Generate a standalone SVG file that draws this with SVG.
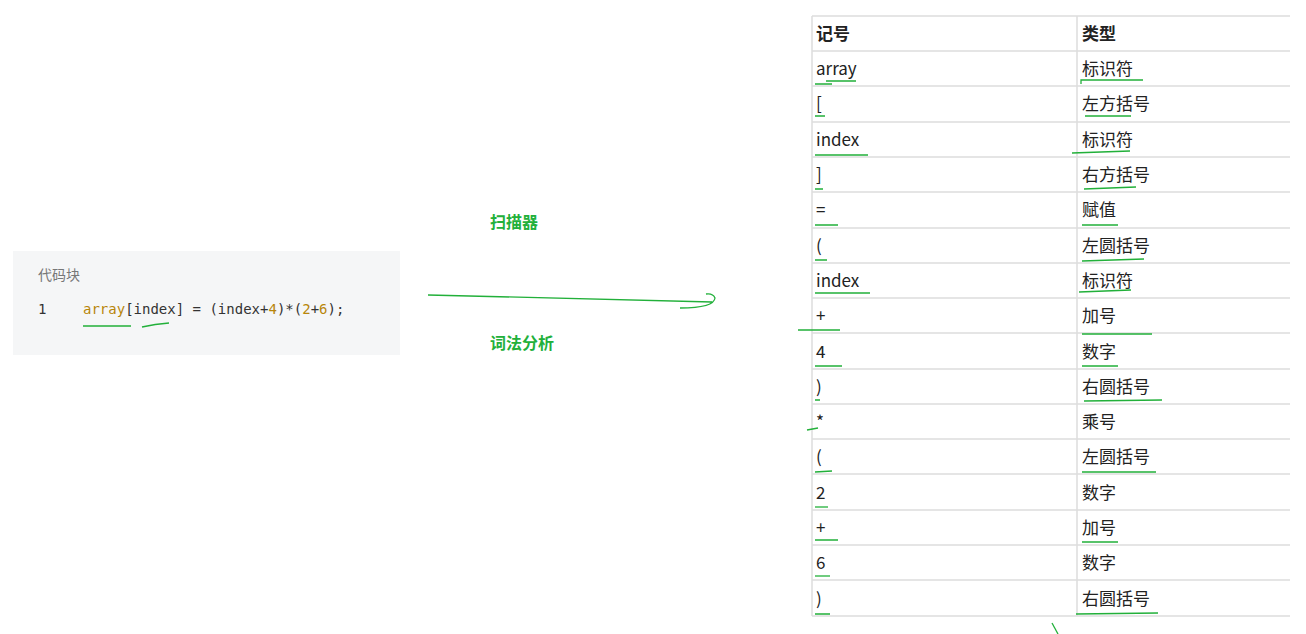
<svg xmlns="http://www.w3.org/2000/svg" width="1306" height="634" viewBox="0 0 1306 634">
<style>
.t{font-family:"Microsoft YaHei","Noto Sans CJK SC",sans-serif;font-size:17px;fill:#222}
.h{font-weight:bold}
.g{stroke:#22b03a;stroke-width:1.3;fill:none}
.c{font-family:"DejaVu Sans Mono","Liberation Mono",monospace;font-size:14px;fill:#333}
.o{fill:#b8860b}
.gl{font-family:"Noto Sans CJK SC",sans-serif;font-size:16px;fill:#22b03a;font-weight:bold}
.ln{stroke:#dcdcdc;stroke-width:1.5}
</style>
<rect width="1306" height="634" fill="#fff"/>
<g id="code">
<rect x="13" y="251" width="387" height="104" fill="#f5f6f7"/>
<text x="38" y="280" font-family="Noto Sans CJK SC,sans-serif" font-size="14" fill="#777">代码块</text>
<text x="38" y="314" class="c" fill="#555">1</text>
<text x="83" y="314" class="c"><tspan class="o">array</tspan>[index] = (index+<tspan class="o">4</tspan>)*(<tspan class="o">2</tspan>+<tspan class="o">6</tspan>);</text>
<path class="g" d="M83 326 L131 326 M142 327 Q155 324 169 323"/>
</g>
<g id="connectors">
<path class="g" d="M428 295 Q560 298 712 302 M680 308 Q714 308 715 298 Q713 293 706 294"/>
<text x="490" y="228" class="gl">扫描器</text>
<text x="490" y="349" class="gl">词法分析</text>
<path class="g" d="M1052 623 L1058 634"/>
</g>
<g id="table">
<g class="ln">
<line x1="812" y1="16" x2="1290" y2="16"/><line x1="812" y1="51" x2="1290" y2="51"/><line x1="812" y1="86" x2="1290" y2="86"/><line x1="812" y1="122" x2="1290" y2="122"/><line x1="812" y1="157" x2="1290" y2="157"/><line x1="812" y1="192" x2="1290" y2="192"/><line x1="812" y1="228" x2="1290" y2="228"/><line x1="812" y1="263" x2="1290" y2="263"/><line x1="812" y1="298" x2="1290" y2="298"/><line x1="812" y1="333" x2="1290" y2="333"/><line x1="812" y1="369" x2="1290" y2="369"/><line x1="812" y1="404" x2="1290" y2="404"/><line x1="812" y1="439" x2="1290" y2="439"/><line x1="812" y1="474" x2="1290" y2="474"/><line x1="812" y1="510" x2="1290" y2="510"/><line x1="812" y1="545" x2="1290" y2="545"/><line x1="812" y1="580" x2="1290" y2="580"/><line x1="812" y1="616" x2="1290" y2="616"/>
<line x1="812" y1="16" x2="812" y2="616"/><line x1="1077" y1="16" x2="1077" y2="616"/>
</g>
<text class="t h" x="816" y="40">记号</text><text class="t h" x="1082" y="40">类型</text>
<text class="t" x="816" y="75">array</text><text class="t" x="1082" y="75">标识符</text>
<text class="t" x="816" y="110">[</text><text class="t" x="1082" y="110">左方括号</text>
<text class="t" x="816" y="146">index</text><text class="t" x="1082" y="146">标识符</text>
<text class="t" x="816" y="181">]</text><text class="t" x="1082" y="181">右方括号</text>
<text class="t" x="816" y="216">=</text><text class="t" x="1082" y="216">赋值</text>
<text class="t" x="816" y="252">(</text><text class="t" x="1082" y="252">左圆括号</text>
<text class="t" x="816" y="287">index</text><text class="t" x="1082" y="287">标识符</text>
<text class="t" x="816" y="322">+</text><text class="t" x="1082" y="322">加号</text>
<text class="t" x="816" y="358">4</text><text class="t" x="1082" y="358">数字</text>
<text class="t" x="816" y="393">)</text><text class="t" x="1082" y="393">右圆括号</text>
<text class="t" x="816" y="428">*</text><text class="t" x="1082" y="428">乘号</text>
<text class="t" x="816" y="463">(</text><text class="t" x="1082" y="463">左圆括号</text>
<text class="t" x="816" y="499">2</text><text class="t" x="1082" y="499">数字</text>
<text class="t" x="816" y="534">+</text><text class="t" x="1082" y="534">加号</text>
<text class="t" x="816" y="569">6</text><text class="t" x="1082" y="569">数字</text>
<text class="t" x="816" y="605">)</text><text class="t" x="1082" y="605">右圆括号</text>
<g class="g">
<path d="M815 84 L832 84 M826 81 L856 81 M1081 84 L1081 80 L1143 80"/>
<path d="M815 116 L825 116 M1085 116 L1131 116"/>
<path d="M815 155 L868 155 M1072 153 L1130 151"/>
<path d="M815 189 L823 189 M1084 189 L1136 187"/>
<path d="M815 225 L838 225 M1082 225 L1118 225"/>
<path d="M815 260 L827 260 M1082 261 L1144 259"/>
<path d="M815 293 L870 293 M1079 292 L1131 290"/>
<path d="M798 330 L840 330 M1082 334 L1152 334"/>
<path d="M815 366 L842 366 M1082 366 L1118 366"/>
<path d="M815 400 L820 400 M1084 401 L1162 400"/>
<path d="M807 430 L818 428"/>
<path d="M815 472 L832 471 M1082 472 L1156 472"/>
<path d="M815 507 L828 507"/>
<path d="M815 540 L838 540 M1082 542 L1118 542"/>
<path d="M815 576 L830 576"/>
<path d="M815 614 L830 614 M1076 614 L1158 613"/>
</g>
</g>
</svg>
